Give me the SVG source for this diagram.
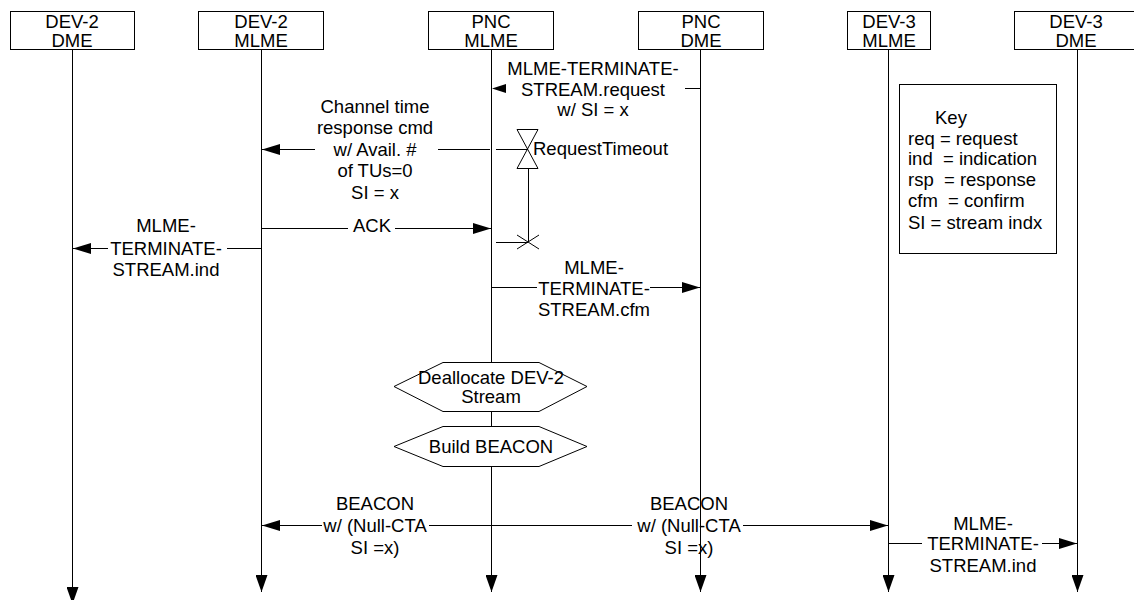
<svg xmlns="http://www.w3.org/2000/svg" width="1134" height="600" viewBox="0 0 1134 600">
<style>
text{font-family:"Liberation Sans",Arial,sans-serif;font-size:18.5px;fill:#000}
.c{text-anchor:middle}
.box{fill:#fff;stroke:#000;stroke-width:1}
.ln{stroke:#000;stroke-width:1;fill:none}
.k{white-space:pre}
</style>
<defs>
<marker id="ah" markerUnits="userSpaceOnUse" markerWidth="18" markerHeight="11" refX="18" refY="5.5" orient="auto"><path d="M0,0 L18,5.5 L0,11 Z" fill="#000"/></marker>
<marker id="as" markerUnits="userSpaceOnUse" markerWidth="14" markerHeight="9" refX="14" refY="4.5" orient="auto"><path d="M0,0 L14,4.5 L0,9 Z" fill="#000"/></marker>
<marker id="al" markerUnits="userSpaceOnUse" markerWidth="17" markerHeight="12" refX="17" refY="6" orient="auto"><path d="M0,0 L17,6 L0,12 Z" fill="#000"/></marker>
</defs>

<g id="lifelines">
<line class="ln" x1="72.5" y1="50" x2="72.5" y2="604" marker-end="url(#al)"/>
<line class="ln" x1="261.5" y1="50" x2="261.5" y2="592" marker-end="url(#al)"/>
<line class="ln" x1="491.5" y1="50" x2="491.5" y2="592" marker-end="url(#al)"/>
<line class="ln" x1="700.5" y1="50" x2="700.5" y2="592" marker-end="url(#al)"/>
<line class="ln" x1="888.5" y1="50" x2="888.5" y2="592" marker-end="url(#al)"/>
<line class="ln" x1="1077.5" y1="50" x2="1077.5" y2="592" marker-end="url(#al)"/>
</g>

<g id="dev2-dme"><rect class="box" x="10.5" y="11.5" width="124" height="38"/><text class="c" x="72" y="28">DEV-2</text><text class="c" x="72" y="47">DME</text></g>
<g id="dev2-mlme"><rect class="box" x="198.5" y="11.5" width="125" height="38"/><text class="c" x="261" y="28">DEV-2</text><text class="c" x="261" y="47">MLME</text></g>
<g id="pnc-mlme"><rect class="box" x="428.5" y="11.5" width="125" height="38"/><text class="c" x="491" y="28">PNC</text><text class="c" x="491" y="47">MLME</text></g>
<g id="pnc-dme"><rect class="box" x="638.5" y="11.5" width="125" height="38"/><text class="c" x="701" y="28">PNC</text><text class="c" x="701" y="47">DME</text></g>
<g id="dev3-mlme"><rect class="box" x="847.5" y="11.5" width="83" height="38"/><text class="c" x="889" y="28">DEV-3</text><text class="c" x="889" y="47">MLME</text></g>
<g id="dev3-dme"><rect class="box" x="1014.5" y="11.5" width="126" height="38"/><text class="c" x="1076" y="28">DEV-3</text><text class="c" x="1076" y="47">DME</text></g>

<g id="key"><rect class="box" x="899.5" y="84.5" width="157" height="169"/>
<text x="935" y="123.5">Key</text>
<text class="k" x="908" y="144.5">req = request</text>
<text class="k" x="908" y="165">ind  = indication</text>
<text class="k" x="908" y="186">rsp  = response</text>
<text class="k" x="908" y="207">cfm  = confirm</text>
<text class="k" x="908" y="228.5">SI = stream indx</text>
</g>

<g id="dealloc"><polygon class="box" points="394,386.5 443,362.5 539,362.5 587,386.5 539,411.5 443,411.5"/><text class="c" x="491" y="383.5">Deallocate DEV-2</text><text class="c" x="491" y="402.5">Stream</text></g>
<g id="build"><polygon class="box" points="394,446.5 443,426.5 539,426.5 587,446.5 539,466.5 443,466.5"/><text class="c" x="491" y="452.5">Build BEACON</text></g>

<g id="timer">
<path class="ln" d="M517,129.5 L538,129.5 L517,168.5 L538,168.5 Z"/>
<line class="ln" x1="528.5" y1="168" x2="528.5" y2="242"/>
<line class="ln" x1="517" y1="235" x2="539" y2="249"/>
<line class="ln" x1="539" y1="235" x2="517" y2="249"/>
<line class="ln" x1="496" y1="242.5" x2="528" y2="242.5"/>
<text x="533" y="155">RequestTimeout</text>
</g>

<g id="connectors">
<!-- request -->
<line class="ln" x1="700" y1="88.5" x2="685" y2="88.5"/>
<path d="M492,88.5 L506,84 L506,93 Z" fill="#000"/>
<text class="c" x="593" y="75">MLME-TERMINATE-</text>
<text class="c" x="593" y="95.5">STREAM.request</text>
<text class="c" x="593" y="116">w/ SI = x</text>
<!-- channel time response -->
<line class="ln" x1="528" y1="149.5" x2="496" y2="149.5"/>
<line class="ln" x1="490" y1="149.5" x2="438" y2="149.5"/>
<line class="ln" x1="315" y1="149.5" x2="262" y2="149.5" marker-end="url(#ah)"/>
<text class="c" x="375" y="112.5">Channel time</text>
<text class="c" x="375" y="134">response cmd</text>
<text class="c" x="375" y="155.5">w/ Avail. #</text>
<text class="c" x="375" y="177">of TUs=0</text>
<text class="c" x="375" y="198.5">SI = x</text>
<!-- ACK -->
<line class="ln" x1="261" y1="228.5" x2="348" y2="228.5"/>
<line class="ln" x1="395" y1="228.5" x2="491" y2="228.5" marker-end="url(#ah)"/>
<text class="c" x="372" y="231.5">ACK</text>
<!-- left ind -->
<line class="ln" x1="261" y1="248.5" x2="227" y2="248.5"/>
<line class="ln" x1="108" y1="248.5" x2="73" y2="248.5" marker-end="url(#ah)"/>
<text class="c" x="166" y="231.5">MLME-</text>
<text class="c" x="166" y="254.5">TERMINATE-</text>
<text class="c" x="166" y="275.5">STREAM.ind</text>
<!-- cfm -->
<line class="ln" x1="491" y1="287.5" x2="537" y2="287.5"/>
<line class="ln" x1="650" y1="287.5" x2="700" y2="287.5" marker-end="url(#ah)"/>
<text class="c" x="594" y="273.5">MLME-</text>
<text class="c" x="594" y="294.5">TERMINATE-</text>
<text class="c" x="594" y="315.5">STREAM.cfm</text>
<!-- beacon left -->
<line class="ln" x1="491" y1="525.5" x2="429" y2="525.5"/>
<line class="ln" x1="322" y1="525.5" x2="262" y2="525.5" marker-end="url(#ah)"/>
<text class="c" x="375" y="509.5">BEACON</text>
<text class="c" x="375" y="531.5">w/ (Null-CTA</text>
<text class="c" x="375" y="553.5">SI =x)</text>
<!-- beacon right -->
<line class="ln" x1="491" y1="525.5" x2="632" y2="525.5"/>
<line class="ln" x1="743" y1="525.5" x2="888" y2="525.5" marker-end="url(#ah)"/>
<text class="c" x="689" y="509.5">BEACON</text>
<text class="c" x="689" y="531.5">w/ (Null-CTA</text>
<text class="c" x="689" y="553.5">SI =x)</text>
<!-- right ind -->
<line class="ln" x1="888" y1="543.5" x2="922" y2="543.5"/>
<line class="ln" x1="1042" y1="543.5" x2="1077" y2="543.5" marker-end="url(#ah)"/>
<text class="c" x="983" y="529.5">MLME-</text>
<text class="c" x="983" y="549.5">TERMINATE-</text>
<text class="c" x="983" y="571.5">STREAM.ind</text>
</g>
</svg>
